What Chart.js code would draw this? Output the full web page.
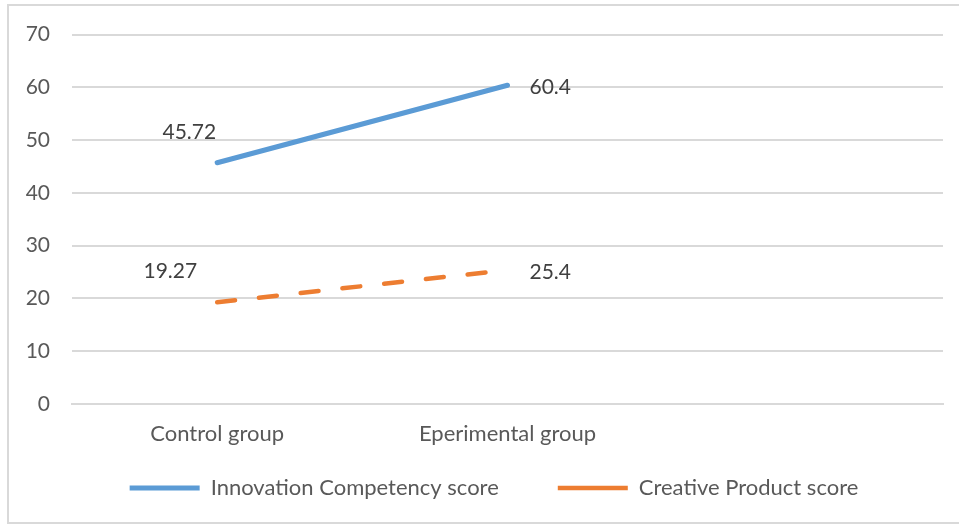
<!DOCTYPE html>
<html>
<head>
<meta charset="utf-8">
<script src="https://cdn.jsdelivr.net/npm/chart.js@4"></script>
<style>
  html, body { margin: 0; padding: 0; background: #fff; overflow: hidden; }
  #wrap { position: relative; width: 959px; height: 527px; }
  #frame { position: absolute; left: 7px; top: 4px; width: 960px; height: 520px; border: 2px solid #d9d9d9; box-sizing: border-box; pointer-events: none; }
  canvas { position: absolute; left: 0; top: 0; }
</style>
</head>
<body>
<div id="wrap">
  <canvas id="chart" width="959" height="527"></canvas>
  <div id="frame"></div>
</div>
<script>
const categories = ['Control group', 'Eperimental group', ''];
const innovationScores = [45.72, 60.4, null];
const creativeScores = [19.27, 25.4, null];
const yTicks = [0, 10, 20, 30, 40, 50, 60, 70];

const FONT = 'Lato, "Open Sans", sans-serif';

// value labels: first point sits up-left, last point to the right
const firstLabelShift = [[-1, -30], [-20, -31]];
const valueLabels = {
    id: 'valueLabels',
    afterDatasetsDraw(chart) {
        const ctx = chart.ctx;
        ctx.save();
        ctx.font = '21px ' + FONT;
        ctx.fillStyle = '#404040';
        ctx.textBaseline = 'middle';
        chart.data.datasets.forEach((ds, i) => {
            const pts = chart.getDatasetMeta(i).data;
            ds.data.forEach((v, j) => {
                if (v === null) return;
                const p = pts[j];
                if (j === 0) {
                    ctx.textAlign = 'right';
                    ctx.fillText(String(v), p.x + firstLabelShift[i][0], p.y + firstLabelShift[i][1]);
                } else {
                    ctx.textAlign = 'left';
                    ctx.fillText(String(v), p.x + 22, p.y + 2);
                }
            });
        });
        ctx.restore();
    }
};

// wide gap between legend items but legend row sits close under the axis labels
const legendPlace = {
    id: 'legendPlace',
    beforeDraw(chart) {
        const lg = chart.legend;
        if (!lg) return;
        lg.left = 45;
        lg.top = 488 - 59 - 11;
        lg.bottom = chart.height;
        lg.height = lg.bottom - lg.top;
    }
};

new Chart(document.getElementById('chart'), {
    type: 'line',
    data: {
        labels: categories,
        datasets: [{
            label: 'Innovation Competency score',
            data: innovationScores,
            borderColor: '#5b9bd5',
            backgroundColor: '#5b9bd5',
            borderWidth: 5,
            borderCapStyle: 'round',
            pointRadius: 0,
            pointStyle: 'line',
            tension: 0
        }, {
            label: 'Creative Product score',
            data: creativeScores,
            borderColor: '#ed7d31',
            backgroundColor: '#ed7d31',
            borderWidth: 4.5,
            borderDash: [18, 24],
            borderCapStyle: 'round',
            pointRadius: 0,
            pointStyle: 'line',
            tension: 0
        }]
    },
    options: {
        responsive: false,
        animation: false,
        layout: { padding: { left: 26, right: 16, top: 33, bottom: 0 } },
        plugins: {
            tooltip: { enabled: false },
            legend: {
                position: 'bottom',
                maxHeight: 40,
                labels: {
                    usePointStyle: true,
                    pointStyleWidth: 70,
                    padding: 59,
                    color: '#595959',
                    font: { family: FONT, size: 22 }
                }
            }
        },
        scales: {
            x: {
                offset: true,
                grid: { display: false, drawTicks: false },
                border: { color: '#d9d9d9', width: 2 },
                ticks: { color: '#595959', padding: 17, font: { family: FONT, size: 22 }, maxRotation: 0, autoSkip: false },
                afterFit(scale) { scale.height = 83; }
            },
            y: {
                min: 0,
                max: 70,
                afterBuildTicks(scale) { scale.ticks = yTicks.map(v => ({ value: v })); },
                grid: { color: '#d9d9d9', lineWidth: 2, drawTicks: false },
                border: { display: false },
                ticks: { color: '#595959', padding: 22, font: { family: FONT, size: 21 } },
                afterFit(scale) { scale.width = 46; }
            }
        }
    },
    plugins: [valueLabels, legendPlace]
});
</script>
</body>
</html>
